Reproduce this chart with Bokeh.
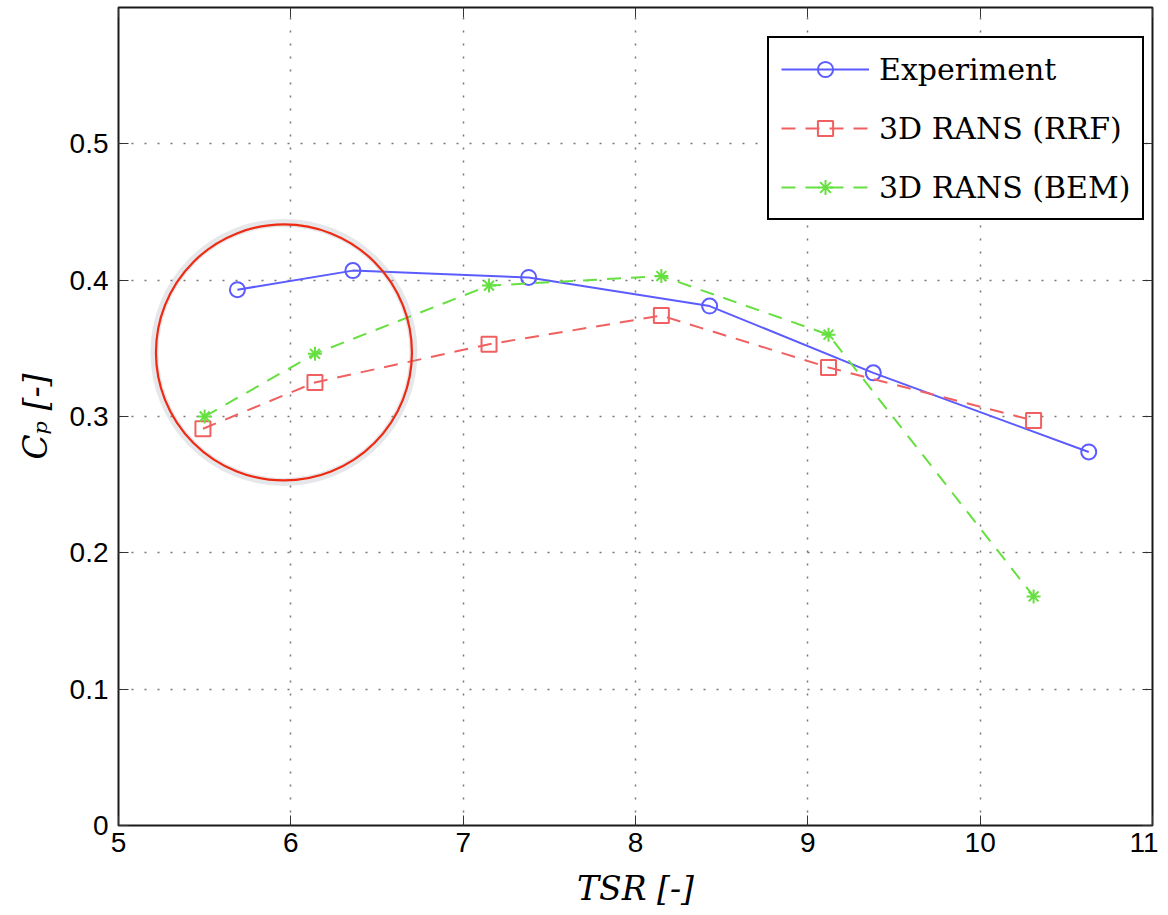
from bokeh.plotting import figure
from bokeh.models import (Range1d, FixedTicker, LinearAxis, Legend, LegendItem)
from bokeh.embed import file_html
from bokeh.resources import INLINE

# ---- data ----
exp_tsr = [5.69, 6.36, 7.38, 8.43, 9.38, 10.63]
exp_cp = [0.393, 0.407, 0.402, 0.381, 0.332, 0.274]

rrf_tsr = [5.49, 6.14, 7.15, 8.15, 9.12, 10.31]
rrf_cp = [0.291, 0.325, 0.353, 0.374, 0.336, 0.297]

bem_tsr = [5.50, 6.14, 7.15, 8.15, 9.12, 10.31]
bem_cp = [0.300, 0.346, 0.396, 0.403, 0.360, 0.168]

x_ticks = [5, 6, 7, 8, 9, 10, 11]
y_ticks = [0, 0.1, 0.2, 0.3, 0.4, 0.5]

labels = ["Experiment", "3D RANS (RRF)", "3D RANS (BEM)"]

# highlight annotation (red circle)
highlight_x = [5.96]
highlight_y = [0.347]

# ---- figure ----
p = figure(width=1158, height=910, output_backend="svg", toolbar_location=None,
           x_range=Range1d(5, 11), y_range=Range1d(0, 0.6),
           min_border_left=118, min_border_right=6, min_border_top=7,
           min_border_bottom=85)
p.background_fill_color = "white"
p.border_fill_color = "white"
p.outline_line_color = "black"
p.outline_line_width = 2
p.outline_line_alpha = 0.9

tick_font = "Liberation Sans"
for ax in (p.xaxis[0], p.yaxis[0]):
    ax.major_label_text_font = tick_font
    ax.major_label_text_font_size = "28px"
    ax.major_label_text_color = "black"
    ax.major_tick_in = 10
    ax.major_tick_out = 0
    ax.minor_tick_in = 0
    ax.minor_tick_out = 0
    ax.axis_line_color = None
    ax.major_tick_line_color = "#333333"
    ax.major_tick_line_width = 1

p.xaxis[0].ticker = FixedTicker(ticks=x_ticks)
p.yaxis[0].ticker = FixedTicker(ticks=y_ticks)
p.xaxis[0].major_label_standoff = 7
p.yaxis[0].major_label_standoff = 10

p.xaxis[0].axis_label = "TSR [-]"
p.yaxis[0].axis_label = "C\u209a [-]"
for ax in (p.xaxis[0], p.yaxis[0]):
    ax.axis_label_text_font = "DejaVu Serif"
    ax.axis_label_text_font_style = "italic"
    ax.axis_label_text_font_size = "33px"
    ax.axis_label_text_color = "black"
p.xaxis[0].axis_label_standoff = 14
p.yaxis[0].axis_label_standoff = 12

# mirrored tick axes (box)
top = LinearAxis(ticker=FixedTicker(ticks=x_ticks), major_label_text_font_size="1px",
                 major_label_text_color=None, major_label_standoff=0,
                 major_tick_in=10, major_tick_out=0, minor_tick_in=0, minor_tick_out=0,
                 axis_line_color=None, major_tick_line_color="#333333")
right = LinearAxis(ticker=FixedTicker(ticks=y_ticks), major_label_text_font_size="1px",
                   major_label_text_color=None, major_label_standoff=0,
                   major_tick_in=10, major_tick_out=0, minor_tick_in=0, minor_tick_out=0,
                   axis_line_color=None, major_tick_line_color="#333333")
p.add_layout(top, "above")
p.add_layout(right, "right")

for g in (p.xgrid[0], p.ygrid[0]):
    g.grid_line_color = "#777777"
    g.grid_line_dash = "2 11"
    g.grid_line_width = 1.5
p.xgrid[0].ticker = FixedTicker(ticks=x_ticks)
p.ygrid[0].ticker = FixedTicker(ticks=y_ticks)

blue = "#5b5bff"
red = "#f06060"
green = "#66e040"

# Experiment
l1 = p.line(exp_tsr, exp_cp, line_color=blue, line_width=2)
m1 = p.scatter(exp_tsr, exp_cp, marker="circle", size=15, fill_color=None,
               line_color=blue, line_width=2)
# RRF
l2 = p.line(rrf_tsr, rrf_cp, line_color=red, line_width=2, line_dash="14 10")
m2 = p.scatter(rrf_tsr, rrf_cp, marker="square", size=15, fill_color=None,
               line_color=red, line_width=2)
# BEM
l3 = p.line(bem_tsr, bem_cp, line_color=green, line_width=2, line_dash="14 10")
m3 = p.scatter(bem_tsr, bem_cp, marker="asterisk", size=14,
               line_color=green, line_width=2)

# highlight circle with soft shadow
p.scatter(highlight_x, highlight_y, marker="circle", size=259, fill_color=None,
          line_color="#9aa0aa", line_alpha=0.25, line_width=8)
p.scatter(highlight_x, highlight_y, marker="circle", size=256, fill_color=None,
          line_color="#ee2a12", line_width=2.2)

legend = Legend(items=[LegendItem(label=labels[0], renderers=[l1, m1]),
                       LegendItem(label=labels[1], renderers=[l2, m2]),
                       LegendItem(label=labels[2], renderers=[l3, m3])],
                location=(649, 605), margin=0, padding=12, spacing=21,
                glyph_width=88, glyph_height=38, label_height=38,
                label_standoff=10,
                label_text_font="DejaVu Serif", label_text_font_size="30px",
                label_text_color="black",
                border_line_color="black", border_line_width=2,
                border_line_alpha=1.0,
                background_fill_color="white", background_fill_alpha=1)
p.add_layout(legend, "center")

open("out.html", "w").write(file_html(p, INLINE))
